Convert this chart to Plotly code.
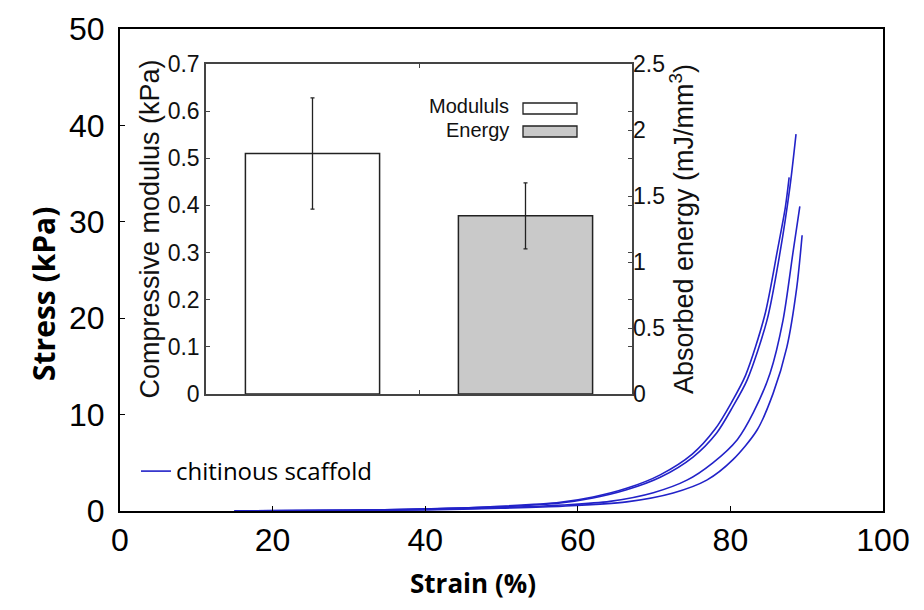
import plotly.graph_objects as go

# ---- Main stress-strain curves (strain %, stress kPa) ----
c1_strain = [15, 30, 40, 50, 57.7, 62, 66.4, 70.8, 75.1, 78.2, 80.3, 82.2, 84.8, 86.5, 87.8, 88.6]
c1_stress = [0, 0.08, 0.2, 0.45, 0.83, 1.35, 2.2, 3.5, 5.6, 8.1, 10.8, 13.6, 19.8, 26.8, 33.6, 39.1]
c2_strain = [15, 30, 40, 50, 57.7, 62, 66.4, 70.8, 75.0, 78.0, 80.1, 82.0, 84.5, 86.2, 87.2, 87.7]
c2_stress = [0, 0.08, 0.22, 0.5, 0.9, 1.45, 2.35, 3.75, 5.9, 8.5, 11.2, 14.1, 20.3, 27.2, 31.5, 34.6]
c3_strain = [15, 30, 40, 50, 58, 64.2, 69.9, 74.3, 77.7, 80.9, 83.0, 85.2, 86.9, 88.2, 89.1]
c3_stress = [0, 0.06, 0.15, 0.35, 0.62, 1.0, 1.9, 3.2, 5.0, 7.4, 10.2, 14.3, 19.8, 26.8, 31.6]
c4_strain = [15, 30, 40, 50, 58, 66.4, 72.5, 76.9, 80.3, 83.5, 85.6, 87.4, 88.7, 89.4]
c4_stress = [0, 0.05, 0.12, 0.3, 0.5, 0.95, 1.87, 3.2, 5.3, 8.4, 12.2, 17.0, 23.2, 28.6]
curve_name = "chitinous scaffold"

# ---- Inset bars ----
bar_positions = [1, 2]
modulus_value = [0.51]      # kPa
modulus_err = [0.118]
energy_value = [1.35]       # mJ/mm^3
energy_err = [0.25]
legend_labels = ["Modululs", "Energy"]

x_ticks = [0, 20, 40, 60, 80, 100]
y_ticks = [0, 10, 20, 30, 40, 50]
inset_left_ticks = [0, 0.1, 0.2, 0.3, 0.4, 0.5, 0.6, 0.7]
inset_left_ticktext = ["0", "0.1", "0.2", "0.3", "0.4", "0.5", "0.6", "0.7"]
inset_right_ticks = [0, 0.5, 1, 1.5, 2, 2.5]
inset_right_ticktext = ["0", "0.5", "1", "1.5", "2", "2.5"]

BLUE = "#2222c8"
FONT = "Liberation Sans, Arial, sans-serif"
TITLE_FONT = "Open Sans, sans-serif"

fig = go.Figure()
for i, (xs, ys) in enumerate([(c1_strain, c1_stress), (c2_strain, c2_stress),
                              (c3_strain, c3_stress), (c4_strain, c4_stress)]):
    fig.add_trace(go.Scatter(x=xs, y=ys, mode="lines", name=curve_name,
                             line=dict(color=BLUE, width=1.6, shape="spline", smoothing=0.8),
                             showlegend=(i == 0), xaxis="x", yaxis="y"))

fig.add_trace(go.Bar(x=[bar_positions[0]], y=modulus_value, width=0.63,
                     marker=dict(color="white", line=dict(color="#222", width=1.5)),
                     error_y=dict(type="data", array=modulus_err, color="#222", thickness=1.3, width=2),
                     xaxis="x2", yaxis="y2", showlegend=False))
fig.add_trace(go.Bar(x=[bar_positions[1]], y=energy_value, width=0.63,
                     marker=dict(color="#c9c9c9", line=dict(color="#222", width=1.5)),
                     error_y=dict(type="data", array=energy_err, color="#222", thickness=1.3, width=2),
                     xaxis="x2", yaxis="y3", showlegend=False))

# paper coords helpers
L, R, T, B = 120, 883, 29, 511
W, H = R - L, B - T
def px(x):
    return (x - L) / W
def py(y):
    return (B - y) / H

inset_x = [px(206), px(632)]
inset_y = [py(394), py(64)]

fig.update_layout(
    width=924, height=610,
    margin=dict(l=L, r=924 - R, t=T, b=610 - B),
    paper_bgcolor="white", plot_bgcolor="white",
    barmode="overlay",
    xaxis=dict(range=[0, 100], tickvals=x_ticks, showgrid=False, zeroline=False,
               showline=True, linecolor="black", linewidth=2, mirror=True,
               ticks="inside", ticklen=5, tickcolor="black",
               tickfont=dict(family=FONT, size=32, color="black")),
    yaxis=dict(range=[0, 50], tickvals=y_ticks, showgrid=False, zeroline=False,
               showline=True, linecolor="black", linewidth=2, mirror=True,
               ticks="inside", ticklen=5, tickcolor="black", ticklabelstandoff=7,
               tickfont=dict(family=FONT, size=32, color="black")),
    xaxis2=dict(domain=inset_x, anchor="y2", range=[0.5, 2.5], tickvals=[1.5], showticklabels=False,
                showgrid=False, zeroline=False, showline=True, linecolor="#444", linewidth=1.5,
                mirror="ticks", ticks="inside", ticklen=4, tickcolor="#444"),
    yaxis2=dict(domain=inset_y, anchor="x2", range=[0, 0.7], tickvals=inset_left_ticks,
                ticktext=inset_left_ticktext,
                showgrid=False, zeroline=False, showline=True, linecolor="#444", linewidth=1.5,
                mirror="ticks", ticks="inside", ticklen=4, tickcolor="#444",
                tickfont=dict(family=FONT, size=23, color="#111"),
                title=dict(text="Compressive modulus (kPa)", font=dict(family=FONT, size=27, color="#111"), standoff=0)),
    yaxis3=dict(overlaying="y2", anchor="x2", side="right", range=[0, 2.5],
                tickvals=inset_right_ticks, ticktext=inset_right_ticktext,
                showgrid=False, zeroline=False, showline=False,
                ticks="inside", ticklen=4, tickcolor="#444",
                tickfont=dict(family=FONT, size=23, color="#111"),
                title=dict(text="Absorbed energy (mJ/mm<sup>3</sup>)", font=dict(family=FONT, size=27, color="#111"), standoff=4)),
    legend=dict(x=px(136), y=py(449), xanchor="left", yanchor="top",
                bgcolor="rgba(0,0,0,0)", borderwidth=0, itemwidth=30,
                font=dict(family=TITLE_FONT, size=24, color="black")),
    showlegend=True,
)

# main axis titles as annotations (positioned like the reference)
fig.add_annotation(xref="paper", yref="paper", x=px(473), y=py(583), xanchor="center", yanchor="middle",
                   text="<b>Strain (%)</b>", showarrow=False,
                   font=dict(family=TITLE_FONT, size=26, color="black"))
fig.add_annotation(xref="paper", yref="paper", x=px(43), y=py(294), xanchor="center", yanchor="middle",
                   text="<b>Stress (kPa)</b>", showarrow=False, textangle=-90,
                   font=dict(family=TITLE_FONT, size=30, color="black"))

# inset legend (text + swatches)
swatch_fill = ["white", "#c9c9c9"]
swatch_y = [(103, 114), (126, 137)]
for lab, fill, (y0, y1) in zip(legend_labels, swatch_fill, swatch_y):
    fig.add_shape(type="rect", xref="paper", yref="paper",
                  x0=px(523), x1=px(577), y0=py(y1), y1=py(y0),
                  fillcolor=fill, line=dict(color="#222", width=1.3))
    fig.add_annotation(xref="paper", yref="paper", x=px(511), y=py((y0 + y1) / 2 - 2),
                       xanchor="right", yanchor="middle", text=lab, showarrow=False,
                       font=dict(family=FONT, size=20, color="#111"))

fig.write_html("out.html")
